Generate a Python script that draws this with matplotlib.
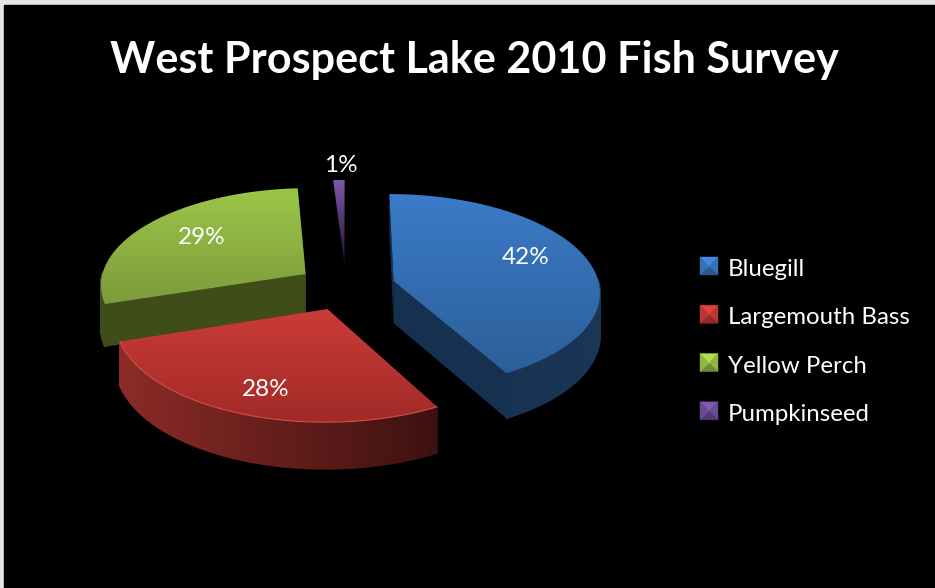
import numpy as np
import matplotlib
matplotlib.use('Agg')
import matplotlib.pyplot as plt
from matplotlib.colors import LinearSegmentedColormap, to_rgb
from matplotlib.patches import Polygon, Rectangle

especies = ['Bluegill', 'Largemouth Bass', 'Yellow Perch', 'Pumpkinseed']
percentuais = [42, 28, 29, 1]
titulo = 'West Prospect Lake 2010 Fish Survey'

# cores: topo claro, topo escuro, lateral esquerda, lateral direita
cores = [('#3b7bc8', '#2c5f99', '#16304f', '#1a3555'),
         ('#cb3c38', '#a22a27', '#8c2b27', '#3e1110'),
         ('#9bc648', '#7d9b3b', '#3f4d1b', '#3f4d1b'),
         ('#8058ad', '#1c1228', '#1c1228', '#1c1228')]
pos_rotulos = [(526, 257), (266, 390), (202, 237), (341, 166)]

# geometria do disco em pixels
CX, CY = 346, 287
RX, RY = 206, 97
P = 0.10
EXPLODE = 0.24
ALTURA = 42


def projeta(X, Y):
    k = 1 + P * Y
    return CX + RX * X / k, CY - RY * Y / k


def altura(Y):
    return ALTURA / (1 + 0.08 * Y)


def degrade(ax, patch, c1, c2):
    xy = patch.get_xy()
    cmap = LinearSegmentedColormap.from_list('g', [c1, c2])
    im = ax.imshow(np.linspace(0, 1, 256).reshape(-1, 1), cmap=cmap, aspect='auto',
                   extent=(xy[:, 0].min(), xy[:, 0].max(), xy[:, 1].max(), xy[:, 1].min()),
                   zorder=patch.get_zorder())
    im.set_clip_path(patch)


fig = plt.figure(figsize=(9.35, 5.88), dpi=100, facecolor='#e6e6e6')
ax = fig.add_axes([0, 0, 1, 1])
ax.axis('off')
ax.add_patch(Rectangle((4, 5), 931, 583, color='black', zorder=0))

fatias = []
inicio = 90.0
for i, v in enumerate(percentuais):
    fim = inicio - v * 3.6
    fatias.append((i, inicio, fim))
    inicio = fim

# ordem de desenho: o vermelho por ultimo para cobrir o canto do verde
z = 1
for i, a1, a2 in [fatias[3], fatias[2], fatias[0], fatias[1]]:
    c_top1, c_top2, c_esq, c_dir = cores[i]
    meio = np.radians((a1 + a2) / 2)
    ox, oy = EXPLODE * np.cos(meio), EXPLODE * np.sin(meio)
    ang = np.radians(np.linspace(a1, a2, 120))
    X = ox + np.cos(ang)
    Y = oy + np.sin(ang)
    xs, ys = projeta(X, Y)
    tx, ty = projeta(ox, oy)

    if i != 3:
        # faces de corte
        for xa, ya, Ya in [(xs[0], ys[0], Y[0]), (xs[-1], ys[-1], Y[-1])]:
            ax.add_patch(Polygon([(tx, ty), (xa, ya), (xa, ya + altura(Ya)), (tx, ty + altura(oy))],
                                 closed=True, fc=c_esq, ec='none', zorder=z))
        z += 1
        # borda externa, em tiras para dar o degrade horizontal
        c1, c2 = np.array(to_rgb(c_esq)), np.array(to_rgb(c_dir))
        for j in range(len(ang) - 1):
            if np.sin(ang[j]) > 0.02:
                continue
            t = np.clip((xs[j] - xs.min()) / (xs.max() - xs.min()), 0, 1)
            cor = c1 + (c2 - c1) * t
            ax.add_patch(Polygon([(xs[j], ys[j]), (xs[j + 1], ys[j + 1]),
                                  (xs[j + 1], ys[j + 1] + altura(Y[j + 1])), (xs[j], ys[j] + altura(Y[j]))],
                                 closed=True, fc=cor, ec=cor, lw=1.2, zorder=z))
        z += 1

    topo = Polygon(np.column_stack([np.r_[tx, xs], np.r_[ty, ys]]), closed=True, fc='none', ec='none', zorder=z)
    ax.add_patch(topo)
    degrade(ax, topo, c_top1, c_top2)
    z += 1
    if i == 1:
        # friso claro na frente da fatia vermelha
        ax.plot(xs, ys, color='#d0504b', lw=0.8, zorder=z)
        z += 1

# rotulos de porcentagem
for v, (px, py) in zip(percentuais, pos_rotulos):
    ax.text(px, py, f'{v}%', color='white', fontsize=17.5, family='Lato',
            ha='center', va='center', zorder=50)

ax.text(474, 60, titulo, color='white', fontsize=31.1, family='Lato', fontweight='bold',
        ha='center', va='center', zorder=50)

# legenda
for i, nome in enumerate(especies):
    y0 = 266 + i * 48.3
    x0 = 709
    s = 9
    c = np.array(to_rgb(cores[i][0]))
    if i == 3:
        c = np.array(to_rgb('#7350a0'))
    cantos = [(x0 - s, y0 - s), (x0 + s, y0 - s), (x0 + s, y0 + s), (x0 - s, y0 + s)]
    fatores = [1.12, 0.92, 0.72, 0.92]
    for k in range(4):
        cor = np.clip(c * fatores[k], 0, 1)
        ax.add_patch(Polygon([cantos[k], cantos[(k + 1) % 4], (x0, y0 + 1)], closed=True,
                             fc=cor, ec=cor, lw=0.3, zorder=50))
    ax.text(728, y0 + 3.5, nome, color='white', fontsize=17.3, family='Lato',
            ha='left', va='center', zorder=50)

ax.set_xlim(0, 935)
ax.set_ylim(588, 0)
fig.savefig('out.png', dpi=100, facecolor=fig.get_facecolor())
